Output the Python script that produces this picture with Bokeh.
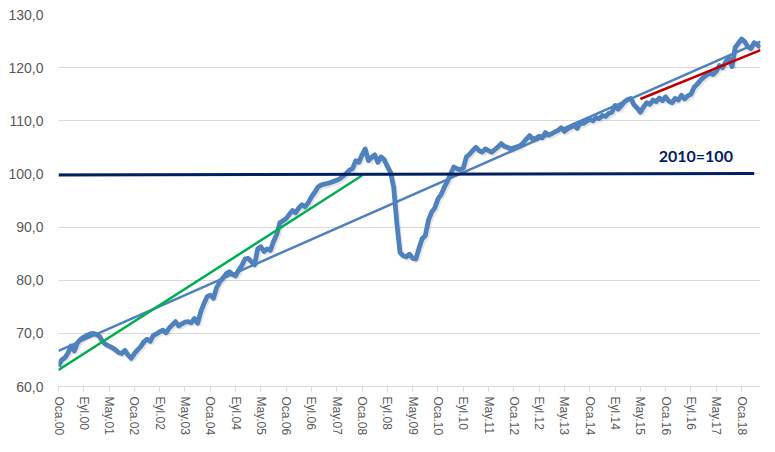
import numpy as np
from bokeh.plotting import figure
from bokeh.models import Range1d, FixedTicker, CustomJSTickFormatter, Label
from bokeh.embed import file_html
from bokeh.resources import INLINE

# ---- data ----
months_tr = ["Oca", "Şub", "Mar", "Nis", "May", "Haz", "Tem", "Ağu", "Eyl", "Eki", "Kas", "Ara"]
years = list(range(2000, 2019))

v2000 = [63.8, 65.0, 65.4, 66.3, 67.6, 66.7, 68.2, 68.9, 69.3, 69.6, 69.9, 70.0]
v2001 = [69.8, 69.4, 68.4, 67.9, 67.6, 67.3, 66.9, 66.4, 66.2, 66.8, 65.9, 65.3]
v2002 = [66.2, 66.9, 67.5, 68.4, 68.9, 68.5, 69.6, 69.9, 70.3, 70.6, 70.1, 71.0]
v2003 = [71.6, 72.2, 71.4, 71.8, 72.1, 72.2, 72.0, 72.8, 71.9, 74.1, 75.6, 76.9]
v2004 = [77.2, 76.6, 78.6, 79.7, 80.4, 81.2, 81.6, 81.1, 80.8, 81.9, 82.8, 84.0]
v2005 = [84.1, 83.5, 82.9, 85.9, 86.3, 85.4, 85.9, 85.6, 87.3, 88.6, 90.8, 91.2]
v2006 = [91.6, 92.4, 93.1, 92.7, 93.6, 94.2, 93.8, 94.6, 95.7, 96.5, 97.5, 97.9]
v2007 = [98.1, 98.2, 98.4, 98.6, 98.8, 99.1, 99.6, 100.1, 100.7, 101.0, 102.5, 102.2]
v2008 = [103.6, 104.7, 102.5, 103.1, 103.6, 102.2, 103.2, 102.7, 101.4, 100.3, 97.5, 90.7]
v2009 = [85.2, 84.6, 84.4, 84.9, 84.1, 84.0, 86.0, 87.8, 88.4, 91.3, 92.8, 93.6]
v2010 = [95.3, 96.1, 97.5, 98.6, 100.0, 101.3, 101.0, 100.8, 101.1, 103.2, 103.7, 104.4]
v2011 = [105.0, 104.4, 104.1, 104.7, 104.4, 104.1, 104.6, 105.1, 105.7, 105.2, 105.0, 104.7]
v2012 = [104.9, 105.1, 105.3, 105.9, 106.6, 107.2, 106.5, 106.7, 107.1, 106.8, 107.8, 107.3]
v2013 = [107.6, 107.9, 108.2, 108.7, 108.0, 108.5, 108.8, 109.2, 108.6, 109.6, 109.5, 109.9]
v2014 = [110.3, 110.0, 110.6, 110.4, 111.0, 110.8, 111.4, 111.6, 112.9, 112.2, 112.8, 113.6]
v2015 = [114.0, 114.2, 113.0, 112.4, 111.6, 112.6, 113.4, 113.1, 113.9, 113.6, 114.3, 113.8]
v2016 = [114.5, 113.7, 113.4, 114.2, 113.9, 114.8, 114.1, 114.7, 115.0, 116.3, 116.9, 117.6]
v2017 = [118.2, 118.6, 119.0, 118.7, 119.3, 120.4, 120.0, 121.1, 121.8, 120.2, 123.8, 124.6]
v2018 = [125.4, 124.9, 123.9, 123.6, 124.7, 124.3, 123.8]

series = (v2000 + v2001 + v2002 + v2003 + v2004 + v2005 + v2006 + v2007 + v2008 +
          v2009 + v2010 + v2011 + v2012 + v2013 + v2014 + v2015 + v2016 + v2017 + v2018)

categories = [f"{m}.{str(y)[2:]}" for y in years for m in months_tr][:len(series)]
idx = list(range(len(series)))

# trend lines
trend_cat = ["Oca.00", "Tem.18"]
trend_val = [66.7, 124.9]
green_cat = ["Oca.00", "Oca.08"]
green_val = [63.1, 99.7]
red_cat = ["May.15", "Tem.18"]
red_val = [114.1, 123.3]
base_cat = ["Oca.00", "May.18"]
base_val = [99.8, 100.1]
base_label = "2010=100"

tick_step = 8
tick_idx = idx[::tick_step]
tick_labels = {i: categories[i] for i in tick_idx}

pos = {c: i for i, c in enumerate(categories)}

# ---- figure ----
p = figure(width=768, height=444, output_backend="svg", toolbar_location=None,
           x_range=Range1d(0, len(series) - 1), y_range=Range1d(60, 130),
           min_border_left=58, min_border_right=8, min_border_top=14, min_border_bottom=58)
p.outline_line_color = None
p.background_fill_color = "white"

# shadow + main series
p.line([i + 0.45 for i in idx], [v - 0.35 for v in series], line_width=5, color="#000000", alpha=0.10)
p.line(idx, series, line_width=4.8, color="#4F81BD", line_join="round")

p.line([pos[c] for c in trend_cat], trend_val, line_width=2.5, color="#4F81BD")
p.line([pos[c] for c in green_cat], green_val, line_width=2.5, color="#00B050")
p.line([pos[c] for c in red_cat], red_val, line_width=2.5, color="#C00000")
p.line([pos[c] for c in base_cat], base_val, line_width=3, color="#002060")

p.add_layout(Label(x=189.8, y=101.7, text=base_label, text_font="Lato", text_font_style="bold",
                   text_font_size="16px", text_color="#002060"))

# axes
p.yaxis.ticker = FixedTicker(ticks=list(range(60, 131, 10)))
p.yaxis.formatter = CustomJSTickFormatter(code="return tick.toFixed(1).replace('.', ',');")
p.yaxis.axis_line_color = None
p.yaxis.major_tick_line_color = None
p.yaxis.major_tick_out = 0
p.yaxis.major_tick_in = 0
p.yaxis.minor_tick_line_color = None
p.yaxis.major_label_standoff = 15
p.yaxis.major_label_text_font = "Liberation Sans"
p.yaxis.major_label_text_font_size = "14px"
p.yaxis.major_label_text_color = "#595959"

p.xaxis.ticker = FixedTicker(ticks=tick_idx)
p.xaxis.major_label_overrides = tick_labels
p.xaxis.major_label_orientation = "vertical"
p.xaxis.axis_line_color = "#d9d9d9"
p.xaxis.major_tick_line_color = "#d9d9d9"
p.xaxis.major_tick_out = 5
p.xaxis.major_tick_in = 0
p.xaxis.minor_tick_line_color = None
p.xaxis.major_label_standoff = 5
p.xaxis.major_label_text_font = "Liberation Sans"
p.xaxis.major_label_text_font_size = "12px"
p.xaxis.major_label_text_color = "#595959"

p.xgrid.grid_line_color = None
p.ygrid.grid_line_color = "#d9d9d9"
p.ygrid.grid_line_width = 1

open("out.html", "w").write(file_html(p, INLINE))
